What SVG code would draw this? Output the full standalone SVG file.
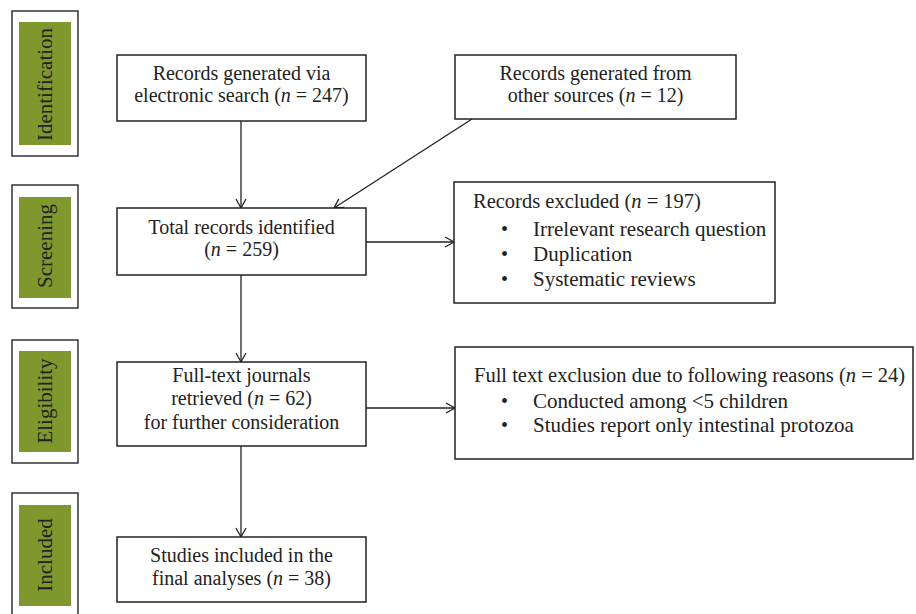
<svg xmlns="http://www.w3.org/2000/svg" width="916" height="614" viewBox="0 0 916 614">
<defs>
<marker id="ah" markerUnits="userSpaceOnUse" markerWidth="12" markerHeight="12" viewBox="-10 -6 12 12" refX="0" refY="0" orient="auto">
<path d="M-9,-5 L0,0 L-9,5" fill="none" stroke="#222" stroke-width="1.3"/>
</marker>
</defs>
<style>
.box{fill:#fff;stroke:#222;stroke-width:1.5}
.side{fill:#fff;stroke:#333;stroke-width:1.5}
.green{fill:#7f982e}
.t{font-family:"Liberation Serif","Times New Roman",serif;font-size:20px;fill:#222}
.b{font-size:21px}
.h{font-size:20.5px}
.c{text-anchor:middle}
.lab{font-family:"Liberation Serif","Times New Roman",serif;font-size:21px;fill:#222;text-anchor:middle}
.ln{stroke:#222;stroke-width:1.3;fill:none;marker-end:url(#ah)}
</style>
<rect width="916" height="614" fill="#fff"/>

<g id="stage-identification">
<rect class="side" x="12" y="11" width="66" height="145"/>
<rect class="green" x="19" y="22" width="52" height="123"/>
<text class="lab" transform="translate(52,84.5) rotate(-90)">Identification</text>
</g>
<g id="stage-screening">
<rect class="side" x="12" y="185" width="66" height="123"/>
<rect class="green" x="19" y="197" width="52" height="101"/>
<text class="lab" transform="translate(52,246) rotate(-90)">Screening</text>
</g>
<g id="stage-eligibility">
<rect class="side" x="12" y="340" width="66" height="123"/>
<rect class="green" x="19" y="351" width="52" height="101"/>
<text class="lab" transform="translate(52,401) rotate(-90)">Eligibility</text>
</g>
<g id="stage-included">
<rect class="side" x="12" y="493" width="66" height="130"/>
<rect class="green" x="19" y="505" width="52" height="101"/>
<text class="lab" transform="translate(52,555) rotate(-90)">Included</text>
</g>

<g id="connectors">
<line class="ln" x1="241" y1="121" x2="241" y2="208"/>
<line class="ln" x1="472" y1="119" x2="334" y2="208"/>
<line class="ln" x1="366" y1="242" x2="454" y2="242"/>
<line class="ln" x1="241" y1="275" x2="241" y2="362"/>
<line class="ln" x1="366" y1="408" x2="455" y2="408"/>
<line class="ln" x1="241" y1="446" x2="241" y2="537"/>
</g>

<g id="records-electronic">
<rect class="box" x="117" y="55" width="249" height="66"/>
<text class="t c" x="241.5" y="80">Records generated via</text>
<text class="t c" x="241.5" y="102">electronic search (<tspan font-style="italic">n</tspan> = 247)</text>
</g>
<g id="records-other">
<rect class="box" x="455" y="55" width="281" height="64"/>
<text class="t c" x="595.5" y="80">Records generated from</text>
<text class="t c" x="595.5" y="102">other sources (<tspan font-style="italic">n</tspan> = 12)</text>
</g>
<g id="total-records">
<rect class="box" x="117" y="208" width="249" height="67"/>
<text class="t c" x="241.5" y="234">Total records identified</text>
<text class="t c" x="241.5" y="256">(<tspan font-style="italic">n</tspan> = 259)</text>
</g>
<g id="records-excluded">
<rect class="box" x="454" y="182" width="321" height="121"/>
<text class="t h" x="473" y="208">Records excluded (<tspan font-style="italic">n</tspan> = 197)</text>
<text class="t" x="501" y="236">•</text><text class="t b" x="533" y="236">Irrelevant research question</text>
<text class="t" x="501" y="261">•</text><text class="t b" x="533" y="261">Duplication</text>
<text class="t" x="501" y="286">•</text><text class="t b" x="533" y="286">Systematic reviews</text>
</g>
<g id="full-text">
<rect class="box" x="117" y="362" width="249" height="84"/>
<text class="t c" x="241.5" y="382">Full-text journals</text>
<text class="t c" x="241.5" y="405">retrieved (<tspan font-style="italic">n</tspan> = 62)</text>
<text class="t c" x="241.5" y="429">for further consideration</text>
</g>
<g id="full-text-excluded">
<rect class="box" x="455" y="347" width="458" height="112"/>
<text class="t h" x="474" y="382">Full text exclusion due to following reasons (<tspan font-style="italic">n</tspan> = 24)</text>
<text class="t" x="501" y="408">•</text><text class="t b" x="533" y="408">Conducted among &lt;5 children</text>
<text class="t" x="501" y="432">•</text><text class="t b" x="533" y="432">Studies report only intestinal protozoa</text>
</g>
<g id="studies-included">
<rect class="box" x="117" y="537" width="249" height="65"/>
<text class="t c" x="241.5" y="562">Studies included in the</text>
<text class="t c" x="241.5" y="585">final analyses (<tspan font-style="italic">n</tspan> = 38)</text>
</g>
</svg>
